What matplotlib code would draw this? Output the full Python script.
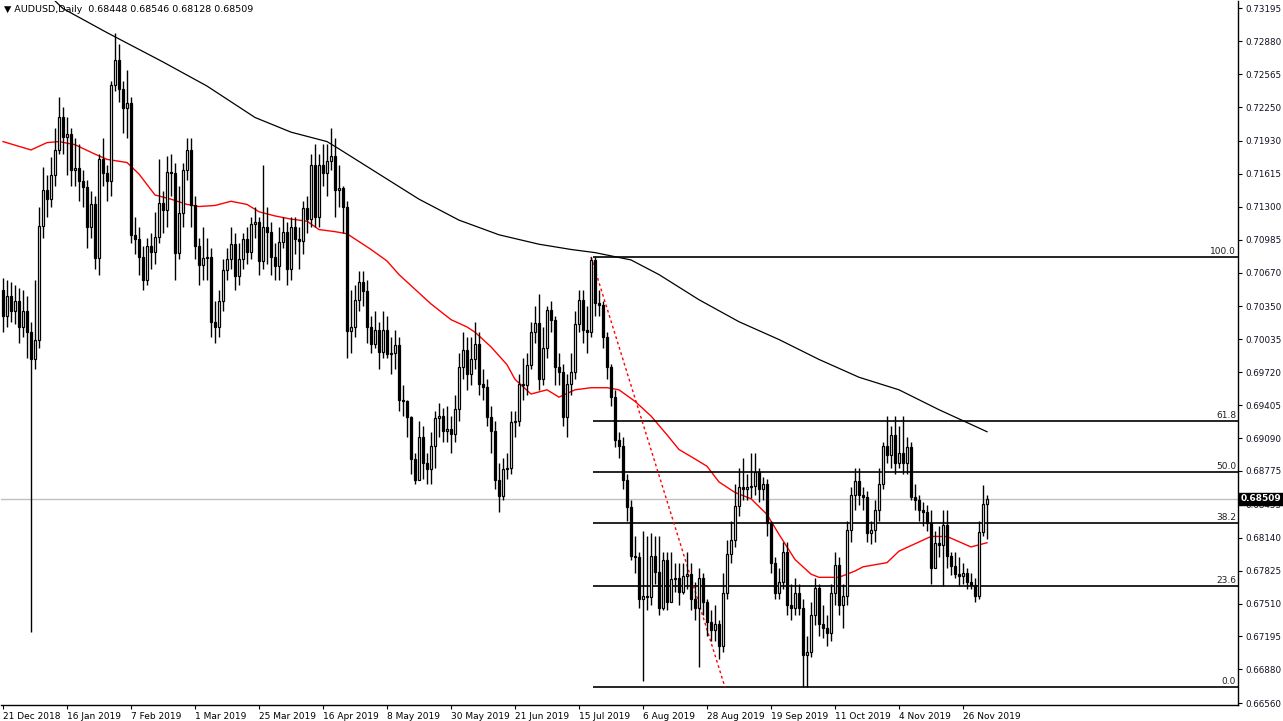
import matplotlib
matplotlib.use("Agg")
import matplotlib.pyplot as plt
import numpy as np

# daily closes, highs and lows (AUDUSD), bar 0 = 21 Dec 2018
closes = [
    0.7025, 0.7045, 0.7030, 0.7040, 0.7015, 0.7030, 0.7010, 0.6984, 0.7003, 0.7111,
    0.7146, 0.7137, 0.7160, 0.7184, 0.7215, 0.7196, 0.7199, 0.7165, 0.7167, 0.7154,
    0.7149, 0.7110, 0.7132, 0.7081, 0.7175, 0.7162, 0.7154, 0.7246, 0.7270, 0.7242,
    0.7224, 0.7229, 0.7103, 0.7099, 0.7082, 0.7060, 0.7092, 0.7087, 0.7101, 0.7133,
    0.7127, 0.7163, 0.7162, 0.7086, 0.7124, 0.7165, 0.7184, 0.7131, 0.7092, 0.7074,
    0.7081, 0.7082, 0.7020, 0.7015, 0.7040, 0.7069, 0.7080, 0.7094, 0.7064, 0.7080,
    0.7099, 0.7087, 0.7113, 0.7115, 0.7078, 0.7110, 0.7106, 0.7082, 0.7073, 0.7096,
    0.7106, 0.7070, 0.7110, 0.7099, 0.7097, 0.7129, 0.7118, 0.7170, 0.7120, 0.7170,
    0.7162, 0.7173, 0.7178, 0.7146, 0.7148, 0.7130, 0.7011, 0.7015, 0.7041, 0.7058,
    0.7049, 0.7015, 0.6999, 0.7012, 0.6991, 0.7012, 0.6989, 0.6990, 0.6998, 0.6945,
    0.6944, 0.6929, 0.6889, 0.6869, 0.6910, 0.6885, 0.6879, 0.6901, 0.6928, 0.6930,
    0.6916, 0.6918, 0.6913, 0.6937, 0.6977, 0.6993, 0.6970, 0.6984, 0.6999, 0.6961,
    0.6958, 0.6929, 0.6916, 0.6869, 0.6854, 0.6879, 0.6880, 0.6924, 0.6925, 0.6961,
    0.6960, 0.6979, 0.7010, 0.7019, 0.6965, 0.6995, 0.7031, 0.7022, 0.6977, 0.6972,
    0.6929, 0.6961, 0.6972, 0.7018, 0.7041, 0.7012, 0.7010, 0.7079, 0.7038, 0.7036,
    0.7005, 0.6977, 0.6948, 0.6907, 0.6901, 0.6869, 0.6843, 0.6796, 0.6795, 0.6755,
    0.6758, 0.6757, 0.6796, 0.6781, 0.6747, 0.6793, 0.6752, 0.6774, 0.6775, 0.6762,
    0.6777, 0.6779, 0.6755, 0.6747, 0.6775, 0.6752, 0.6733, 0.6726, 0.6731, 0.6710,
    0.6761, 0.6798, 0.6812, 0.6844, 0.6862, 0.6860, 0.6862, 0.6863, 0.6877, 0.6860,
    0.6865, 0.6828, 0.6790, 0.6761, 0.6772, 0.6800, 0.6750, 0.6747, 0.6761, 0.6747,
    0.6702, 0.6705, 0.6740, 0.6766, 0.6731, 0.6728, 0.6723, 0.6761, 0.6788, 0.6750,
    0.6758, 0.6821, 0.6855, 0.6868, 0.6855, 0.6853, 0.6818, 0.6821, 0.6840, 0.6865,
    0.6901, 0.6893, 0.6912, 0.6885, 0.6895, 0.6885, 0.6900, 0.6853, 0.6850, 0.6840,
    0.6838, 0.6828, 0.6785, 0.6809, 0.6807, 0.6826, 0.6796, 0.6787, 0.6779, 0.6777,
    0.6780, 0.6772, 0.6769, 0.6758, 0.6819, 0.6846, 0.6851,
]
highs = [
    0.7062, 0.7060, 0.7058, 0.7055, 0.7052, 0.7050, 0.7045, 0.7020, 0.7060, 0.7130,
    0.7168, 0.7160, 0.7177, 0.7205, 0.7235, 0.7225, 0.7215, 0.7205, 0.7195, 0.7190,
    0.7165, 0.7155, 0.7145, 0.7140, 0.7180, 0.7195, 0.7170, 0.7250, 0.7296, 0.7285,
    0.7250, 0.7260, 0.7235, 0.7120, 0.7110, 0.7092, 0.7100, 0.7105, 0.7125, 0.7175,
    0.7145, 0.7178, 0.7180, 0.7172, 0.7150, 0.7172, 0.7195, 0.7195, 0.7140, 0.7100,
    0.7110, 0.7100, 0.7090, 0.7040, 0.7050, 0.7080, 0.7090, 0.7110, 0.7105, 0.7095,
    0.7105, 0.7110, 0.7120, 0.7130, 0.7120, 0.7170, 0.7130, 0.7115, 0.7095, 0.7110,
    0.7120, 0.7115, 0.7120, 0.7120, 0.7110, 0.7135, 0.7140, 0.7180, 0.7190, 0.7180,
    0.7190, 0.7190, 0.7205, 0.7195, 0.7170, 0.7150, 0.7135, 0.7050, 0.7055, 0.7068,
    0.7068, 0.7060, 0.7025, 0.7030, 0.7020, 0.7030, 0.7025, 0.7005, 0.7012, 0.7005,
    0.6960, 0.6945, 0.6930, 0.6895, 0.6925, 0.6920, 0.6895, 0.6915, 0.6935, 0.6942,
    0.6938, 0.6940, 0.6930, 0.6950, 0.6990, 0.7010, 0.7005, 0.7005, 0.7020, 0.7010,
    0.6975, 0.6965, 0.6940, 0.6925, 0.6885, 0.6890, 0.6895, 0.6935, 0.6935, 0.6970,
    0.6985, 0.6990, 0.7020, 0.7035, 0.7046, 0.7015, 0.7035, 0.7040, 0.7025, 0.6990,
    0.6980, 0.6970, 0.6990, 0.7030, 0.7050, 0.7050, 0.7035, 0.7082, 0.7082, 0.7050,
    0.7040, 0.7010, 0.6980, 0.6955, 0.6915, 0.6910, 0.6875, 0.6850, 0.6815, 0.6800,
    0.6820, 0.6815, 0.6818, 0.6815, 0.6815, 0.6800, 0.6800, 0.6800, 0.6790, 0.6790,
    0.6790, 0.6800, 0.6790, 0.6772, 0.6785, 0.6780, 0.6755, 0.6745, 0.6750, 0.6735,
    0.6780, 0.6812, 0.6830, 0.6865, 0.6880, 0.6890, 0.6875, 0.6895, 0.6895, 0.6880,
    0.6872, 0.6870, 0.6830, 0.6795, 0.6785, 0.6810, 0.6810, 0.6770, 0.6775, 0.6770,
    0.6755, 0.6720, 0.6752, 0.6775, 0.6770, 0.6750, 0.6740, 0.6770, 0.6800, 0.6795,
    0.6770, 0.6830, 0.6862, 0.6880, 0.6880, 0.6862, 0.6858, 0.6830, 0.6850, 0.6880,
    0.6905, 0.6930, 0.6920, 0.6930, 0.6920, 0.6930, 0.6910, 0.6905, 0.6865, 0.6855,
    0.6848, 0.6845, 0.6840, 0.6820, 0.6825, 0.6840, 0.6840, 0.6800, 0.6800, 0.6795,
    0.6790, 0.6785, 0.6780, 0.6775, 0.6830, 0.6864, 0.6855,
]
lows = [
    0.7010, 0.7015, 0.7020, 0.7018, 0.7000, 0.7005, 0.6985, 0.6724, 0.6975, 0.6995,
    0.7100, 0.7120, 0.7130, 0.7150, 0.7180, 0.7180, 0.7160, 0.7150, 0.7150, 0.7135,
    0.7130, 0.7090, 0.7100, 0.7070, 0.7065, 0.7150, 0.7135, 0.7140, 0.7240, 0.7230,
    0.7200, 0.7195, 0.7095, 0.7085, 0.7065, 0.7050, 0.7055, 0.7070, 0.7075, 0.7095,
    0.7105, 0.7110, 0.7140, 0.7060, 0.7080, 0.7110, 0.7155, 0.7110, 0.7080, 0.7055,
    0.7060, 0.7060, 0.7005, 0.7000, 0.7005, 0.7030, 0.7060, 0.7070, 0.7050, 0.7055,
    0.7070, 0.7075, 0.7080, 0.7100, 0.7065, 0.7070, 0.7075, 0.7065, 0.7060, 0.7060,
    0.7090, 0.7055, 0.7060, 0.7085, 0.7070, 0.7085, 0.7105, 0.7110, 0.7110, 0.7110,
    0.7150, 0.7140, 0.7165, 0.7120, 0.7130, 0.7105, 0.6985, 0.6990, 0.7005, 0.7030,
    0.7035, 0.7000, 0.6990, 0.6995, 0.6975, 0.6985, 0.6985, 0.6970, 0.6975, 0.6935,
    0.6930, 0.6910, 0.6875, 0.6865, 0.6870, 0.6870, 0.6865, 0.6865, 0.6880, 0.6910,
    0.6905, 0.6905, 0.6895, 0.6905, 0.6925, 0.6965, 0.6955, 0.6960, 0.6975, 0.6950,
    0.6945, 0.6920, 0.6895, 0.6860, 0.6838, 0.6850, 0.6870, 0.6875, 0.6910, 0.6920,
    0.6945, 0.6950, 0.6975, 0.7000, 0.6955, 0.6960, 0.6985, 0.7010, 0.6960, 0.6960,
    0.6920, 0.6910, 0.6950, 0.6965, 0.7010, 0.7000, 0.6990, 0.7005, 0.7025, 0.7025,
    0.6995, 0.6965, 0.6940, 0.6900, 0.6890, 0.6860, 0.6830, 0.6793, 0.6780, 0.6747,
    0.6677, 0.6745, 0.6750, 0.6770, 0.6740, 0.6745, 0.6745, 0.6760, 0.6762, 0.6750,
    0.6760, 0.6765, 0.6745, 0.6735, 0.6690, 0.6740, 0.6720, 0.6715, 0.6715, 0.6698,
    0.6705, 0.6755, 0.6790, 0.6805, 0.6835, 0.6850, 0.6850, 0.6852, 0.6855, 0.6848,
    0.6850, 0.6815, 0.6780, 0.6755, 0.6755, 0.6765, 0.6740, 0.6735, 0.6740, 0.6740,
    0.6671, 0.6671, 0.6700, 0.6730, 0.6720, 0.6718, 0.6710, 0.6715, 0.6750, 0.6740,
    0.6728, 0.6750, 0.6810, 0.6840, 0.6845, 0.6840, 0.6810, 0.6808, 0.6810, 0.6830,
    0.6860, 0.6885, 0.6880, 0.6875, 0.6880, 0.6875, 0.6875, 0.6850, 0.6840, 0.6830,
    0.6825, 0.6820, 0.6770, 0.6790, 0.6795, 0.6768, 0.6785, 0.6778, 0.6775, 0.6768,
    0.6770, 0.6765, 0.6765, 0.6752, 0.6755, 0.6815, 0.6813,
]
first_open = 0.7050

# moving averages (bar index, price)
ma50_bars = [0, 7, 11, 14, 18, 23, 26, 31, 34, 38, 42, 46, 49, 53, 57, 61, 64, 68, 72, 76,
             79, 83, 86, 88, 92, 96, 99, 103, 107, 112, 116, 118, 122, 126, 128, 132, 136,
             139, 143, 147, 151, 154, 158, 162, 166, 169, 173, 176, 179, 183, 187, 191, 194,
             198, 202, 204, 209, 213, 215, 221, 224, 228, 232, 236, 239, 242, 246]
ma50_vals = [0.7192, 0.7184, 0.7191, 0.7192, 0.7189, 0.7180, 0.7175, 0.7172, 0.7161, 0.7141,
             0.7137, 0.7132, 0.7130, 0.7131, 0.7135, 0.7132, 0.7125, 0.7121, 0.7118, 0.7116,
             0.7108, 0.7106, 0.7104, 0.7099, 0.7089, 0.7078, 0.7065, 0.7051, 0.7037, 0.7022,
             0.7015, 0.7010, 0.6996, 0.6979, 0.6965, 0.6951, 0.6955, 0.6948, 0.6955, 0.6957,
             0.6957, 0.6955, 0.6944, 0.6930, 0.6912, 0.6898, 0.6889, 0.6882, 0.6867, 0.6857,
             0.6851, 0.6836, 0.6817, 0.6793, 0.6779, 0.6776, 0.6776, 0.6782, 0.6786, 0.6790,
             0.6801, 0.6808, 0.6815, 0.6815, 0.6810, 0.6805, 0.6809]
ma200_bars = [12, 15, 26, 40, 51, 63, 72, 81, 84, 94, 104, 114, 124, 134, 142, 148, 157,
              164, 174, 184, 194, 204, 214, 224, 234, 246]
ma200_vals = [0.7330, 0.7319, 0.7296, 0.7268, 0.7245, 0.7215, 0.7201, 0.7192, 0.7185, 0.7161,
              0.7137, 0.7117, 0.7103, 0.7094, 0.7089, 0.7086, 0.7079, 0.7065, 0.7041, 0.7020,
              0.7003, 0.6984, 0.6967, 0.6955, 0.6936, 0.6915]

fib_levels = [0.0, 23.6, 38.2, 50.0, 61.8, 100.0]
fib_high, fib_low = 0.7082, 0.6671
fib_start = 147.5
trend_start = (147, 0.7082)
trend_end = (180.5, 0.6671)

y_ticks = [0.73195, 0.72880, 0.72565, 0.72250, 0.71930, 0.71615, 0.71300, 0.70985, 0.70670,
           0.70350, 0.70035, 0.69720, 0.69405, 0.69090, 0.68775, 0.68455, 0.68140, 0.67825,
           0.67510, 0.67195, 0.66880, 0.66560]
date_pos = [0, 16, 32, 48, 64, 80, 96, 112, 128, 144, 160, 176, 192, 208, 224, 240]
date_labels = ["21 Dec 2018", "16 Jan 2019", "7 Feb 2019", "1 Mar 2019", "25 Mar 2019",
               "16 Apr 2019", "8 May 2019", "30 May 2019", "21 Jun 2019", "15 Jul 2019",
               "6 Aug 2019", "28 Aug 2019", "19 Sep 2019", "11 Oct 2019", "4 Nov 2019",
               "26 Nov 2019"]
last_price = 0.68509

W, H = 1283, 721
fig = plt.figure(figsize=(W / 100, H / 100), dpi=100)
ax = fig.add_axes([1 / W, 16 / H, 1237 / W, 704 / H])
ax.set_xlim(-0.5, 308.75)
ax.set_ylim(0.66541, 0.73262)

c = np.array(closes)
o = np.concatenate([[first_open], c[:-1]])
x = np.arange(len(c))
ax.vlines(x, lows, highs, color="black", linewidth=1, zorder=3)
up = c >= o
body = np.maximum(np.abs(c - o), 0.00008)
ax.bar(x[up], body[up], bottom=o[up], width=0.7, color="white", edgecolor="black",
       linewidth=0.9, zorder=4)
ax.bar(x[~up], body[~up], bottom=c[~up], width=0.7, color="black", edgecolor="black",
       linewidth=0.9, zorder=4)

ax.plot(ma50_bars, ma50_vals, color="red", linewidth=1, zorder=2)
ax.plot(ma200_bars, ma200_vals, color="black", linewidth=0.9, zorder=2)

# current price line
ax.axhline(last_price, color="#c0c0c0", linewidth=1, zorder=1)

# fibonacci retracement
for lvl in fib_levels:
    price = fib_low + (fib_high - fib_low) * lvl / 100
    ax.hlines(price, fib_start, 308.75, color="black", linewidth=1.2, zorder=2)
    ax.text(308.3, price + 0.0001, f"{lvl:.1f}", ha="right", va="bottom", fontsize=6.5,
            color="#202020")
ax.plot([trend_start[0], trend_end[0]], [trend_start[1], trend_end[1]], color="red",
        linestyle=(0, (2, 2)), linewidth=1, zorder=2)

# axes styling
for s in ["top", "left"]:
    ax.spines[s].set_visible(False)
ax.spines["right"].set_linewidth(1)
ax.spines["bottom"].set_linewidth(1)
ax.yaxis.tick_right()
ax.set_yticks(y_ticks)
ax.set_yticklabels([f"{t:.5f}" for t in y_ticks], fontsize=6.3, color="#101020")
ax.tick_params(axis="y", length=3, pad=2, width=0.8)
ax.set_xticks(date_pos)
ax.set_xticklabels(date_labels, fontsize=6.5, ha="left")
ax.tick_params(axis="x", length=3, pad=2, width=0.8)

ax.text(1.002, last_price, "0.68509", transform=ax.get_yaxis_transform(),
        ha="left", va="center", fontsize=6.5, color="white", fontweight="bold",
        bbox=dict(boxstyle="square,pad=0.2", fc="black", ec="black"), zorder=10,
        clip_on=False)

fig.text(4 / W, 1 - 9 / H, "\u25bc AUDUSD,Daily  0.68448 0.68546 0.68128 0.68509",
         fontsize=6.8, va="center", ha="left", color="black")

fig.savefig("out.png", dpi=100)
